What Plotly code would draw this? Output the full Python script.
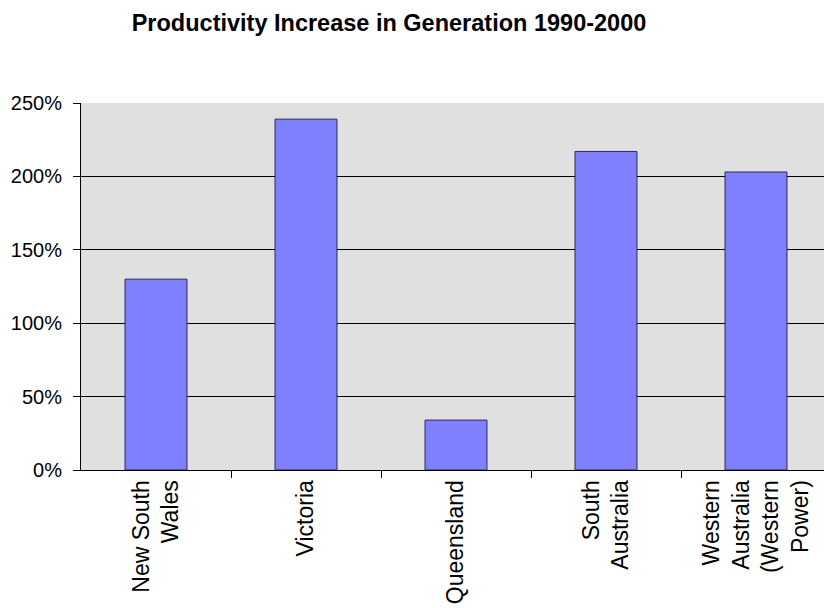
import plotly.graph_objects as go

categories = ["New South<br>Wales", "Victoria", "Queensland", "South<br>Australia",
              "Western<br>Australia<br>(Western<br>Power)"]
increase_pct = [130, 239, 34, 217, 203]
y_ticks = [0, 50, 100, 150, 200, 250]
y_tick_labels = ["0%", "50%", "100%", "150%", "200%", "250%"]

W, H = 824, 608
L, R, T, B = 81, 0, 103, 138
cat_px = 150
plot_w = W - L - R
FONT = "Liberation Sans, Arial, sans-serif"

fig = go.Figure(go.Bar(
    x=list(range(len(categories))), y=increase_pct,
    marker=dict(color="#8080FF", line=dict(color="#2a2a55", width=1)),
    width=0.413,
))

fig.update_layout(
    width=W, height=H,
    margin=dict(l=L, r=R, t=T, b=B, pad=0),
    paper_bgcolor="white", plot_bgcolor="#E0E0E0",
    font=dict(family=FONT, color="black"),
    title=dict(text="<b>Productivity Increase in Generation 1990-2000</b>",
               x=389 / W, xref="container", xanchor="center",
               y=1 - 23 / H, yref="container", yanchor="middle",
               font=dict(size=23.5, color="black")),
    showlegend=False,
)

fig.update_xaxes(
    tickmode="array", tickvals=list(range(len(categories))), ticktext=categories,
    range=[-0.5, -0.5 + plot_w / cat_px],
    tickangle=-90, tickfont=dict(size=23, family=FONT),
    showline=True, linecolor="black", linewidth=1,
    showgrid=False, ticks="", zeroline=False,
)
# boundary ticks via a second overlay axis
fig.update_layout(xaxis2=dict(
    overlaying="x", side="bottom", range=[-0.5, -0.5 + plot_w / cat_px],
    tickmode="array", tickvals=[0.5, 1.5, 2.5, 3.5], ticktext=["", "", "", ""],
    ticks="outside", ticklen=7, tickcolor="black", tickwidth=1,
    showgrid=False, showline=False, zeroline=False,
))
fig.add_trace(go.Scatter(x=[None], y=[None], xaxis="x2", showlegend=False))

fig.update_yaxes(
    range=[0, 250], tickmode="array", tickvals=y_ticks, ticktext=y_tick_labels,
    tickfont=dict(size=20, family=FONT), ticklabelstandoff=7,
    ticks="outside", ticklen=7, tickcolor="black",
    showline=True, linecolor="black", linewidth=1,
    showgrid=True, gridcolor="black", gridwidth=1, zeroline=False,
)

fig.write_html("out.html")
